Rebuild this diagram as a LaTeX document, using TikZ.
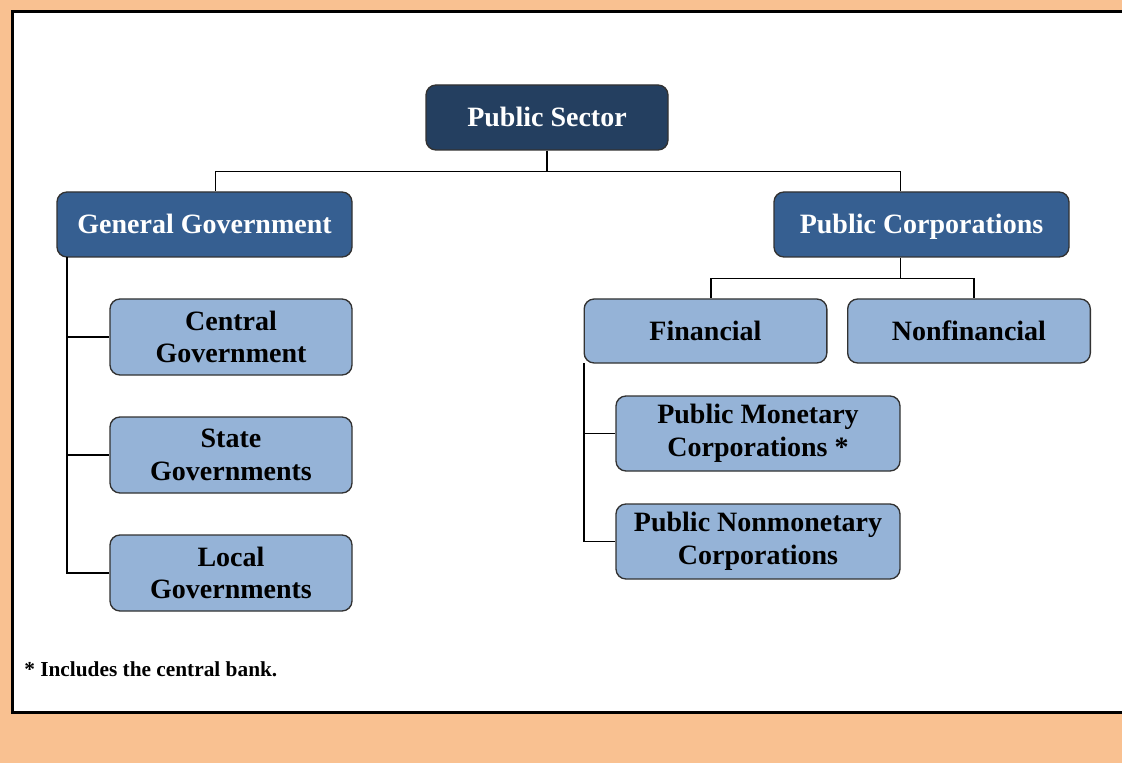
\documentclass[tikz,border=0pt]{standalone}
\usepackage{fontspec}
\setmainfont{Liberation Serif}
\usetikzlibrary{positioning}
\definecolor{pageorange}{RGB}{249,193,145}
\definecolor{navy}{RGB}{36,63,96}
\definecolor{midblue}{RGB}{54,95,145}
\definecolor{lightblue}{RGB}{149,179,215}
\definecolor{boxline}{RGB}{50,50,50}
\tikzset{
	box/.style={draw=boxline, line width=1pt, rounded corners=7.5pt, align=center,
		font=\fontsize{21}{24.5}\selectfont\bfseries, inner sep=0pt},
	oneline/.style={text height=15pt, text depth=1pt},
	topbox/.style={box, oneline, fill=navy, text=white, minimum width=181.5pt, minimum height=48.75pt},
	midbox/.style={box, oneline, fill=midblue, text=white, minimum width=221.25pt, minimum height=48.75pt},
	leafbox/.style={box, fill=lightblue, text=black, minimum width=181.5pt, minimum height=57pt},
	subbox/.style={box, oneline, fill=lightblue, text=black, minimum width=182pt, minimum height=48pt},
	widebox/.style={box, fill=lightblue, text=black, minimum width=213pt, minimum height=56.25pt},
	link/.style={draw=black, line width=0.8pt}
}
\begin{document}
\begin{tikzpicture}[x=0.75pt, y=-0.75pt]
	% page and frame
	\fill[pageorange] (0,0) rectangle (1122,763);
	\useasboundingbox (0,0) rectangle (1122,763);
	\filldraw[fill=white, draw=black, line width=2.25pt] (1140,12) -- (12,12) -- (12,712) -- (1140,712);

	% boxes
	\node[topbox] (ps) at (547,117.5) {Public Sector};
	\node[midbox] (gg) at (204.5,224.5) {General Government};
	\node[midbox] (pc) at (921.5,224.5) {Public Corporations};
	\node[leafbox] (cg) at (231,337) {Central\\Government};
	\node[leafbox] (sg) at (231,455) {State\\Governments};
	\node[leafbox] (lg) at (231,573) {Local\\Governments};
	\node[subbox] (fin) at (705.5,331) {Financial};
	\node[subbox] (nonfin) at (969,331) {Nonfinancial};
	\node[widebox] (pmc) at (758,433.5) {Public Monetary\\Corporations *};
	\node[widebox] (pnc) at (758,541.5) {Public Nonmonetary\\Corporations};

	% footnote
	\node[anchor=west, inner sep=0pt, font=\fontsize{16}{18}\selectfont\bfseries] (note) at (24,669) {* Includes the central bank.};

	% connectors
	\draw[link] (ps.south) -- ++(0,21) -| ([xshift=7.9pt]gg.north);
	\draw[link] (ps.south) -- ++(0,21) -| ([xshift=-16.1pt]pc.north);
	\coordinate (ggleft) at (67,257);
	\draw[link] (ggleft) |- (cg.west);
	\draw[link] (ggleft) |- (sg.west);
	\draw[link] (ggleft) |- (lg.west);
	\draw[link] ([xshift=-16.1pt]pc.south) -- ++(0,21) -| ([xshift=4.1pt]fin.north);
	\draw[link] ([xshift=-16.1pt]pc.south) -- ++(0,21) -| ([xshift=3.75pt]nonfin.north);
	\coordinate (finleft) at (584,363);
	\draw[link] (finleft) |- (pmc.west);
	\draw[link] (finleft) |- (pnc.west);
\end{tikzpicture}
\end{document}
